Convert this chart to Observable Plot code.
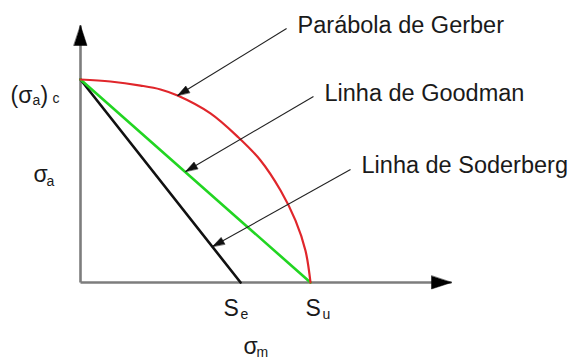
<!DOCTYPE html>
<html>
<head>
<meta charset="utf-8">
<script src="https://cdn.jsdelivr.net/npm/d3@7"></script>
<script src="https://cdn.jsdelivr.net/npm/@observablehq/plot@0.6"></script>
<style>
  body { margin: 0; background: #fff; }
</style>
</head>
<body>
<div id="chart"></div>
<script>
// Fatigue criteria in the σm–σa plane, in units of Su (horizontal) and (σa)c (vertical)
const Su = 1;
const Se = 0.696;
const SaC = 1;

// Gerber curve, read along its length
const gerberSm = [0, 0.130, 0.261, 0.348, 0.422, 0.565, 0.687, 0.783, 0.870, 0.935, 0.978, 1];
const gerberSa = [1, 0.990, 0.970, 0.951, 0.921, 0.833, 0.714, 0.601, 0.453, 0.305, 0.158, 0];

// Callouts: label, where the leader starts and where its head touches the curve
const criteria = ["Parábola de Gerber", "Linha de Goodman", "Linha de Soderberg"];
const fromSm = [0.896, 1.013, 1.174];
const fromSa = [1.251, 0.916, 0.557];
const toSm = [0.422, 0.457, 0.574];
const toSa = [0.921, 0.547, 0.177];

// Axis extents (arrow tips)
const smMax = 1.613;
const saMax = 1.266;

const width = 569, height = 359;
const margin = {top: 79, right: 259, bottom: 77, left: 80};
const xPx = d3.scaleLinear([0, 1], [margin.left, width - margin.right]);
const yPx = d3.scaleLinear([0, 1], [height - margin.bottom, margin.top]);

const gerber = gerberSm.map((sm, i) => ({sm, sa: gerberSa[i]}));
const goodman = [{sm: 0, sa: SaC}, {sm: Su, sa: 0}];
const soderberg = [{sm: 0, sa: SaC}, {sm: Se, sa: 0}];

const callouts = criteria.map((name, i) => {
  const dx = xPx(toSm[i]) - xPx(fromSm[i]);
  const dy = yPx(toSa[i]) - yPx(fromSa[i]);
  return {
    name,
    x1: fromSm[i], y1: fromSa[i],
    x2: toSm[i], y2: toSa[i],
    angle: Math.atan2(dx, -dy) * 180 / Math.PI
  };
});

const axisHeads = [
  {x: 0, y: saMax, angle: 0},
  {x: smMax, y: 0, angle: 90}
];

// filled triangular arrowhead, tip at the anchor point
const head = {
  draw(ctx, l, r) {
    ctx.moveTo(0, -l);
    ctx.lineTo(r, 0);
    ctx.lineTo(-r, 0);
    ctx.closePath();
  }
};

const font = "'Liberation Sans', Arial, Helvetica, sans-serif";
const ink = "#1a1a1a";

// label made of a main glyph run plus smaller subscript runs
function label(x, y, parts) {
  return parts.map(([text, size, dx, dy]) =>
    Plot.text([{x, y}], {
      x: "x", y: "y", text: () => text,
      fontSize: size, dx, dy,
      textAnchor: "start", lineAnchor: "bottom",
      fill: ink
    })
  );
}

const chart = Plot.plot({
  width, height,
  marginTop: margin.top, marginRight: margin.right,
  marginBottom: margin.bottom, marginLeft: margin.left,
  x: {domain: [0, 1], axis: null},
  y: {domain: [0, 1], axis: null},
  style: {fontFamily: font, background: "#fff"},
  marks: [
    // axes
    Plot.link([{x1: 0, y1: 0, x2: smMax, y2: 0}, {x1: 0, y1: 0, x2: 0, y2: saMax}],
      {x1: "x1", y1: "y1", x2: "x2", y2: "y2", stroke: "#7d7d7d", strokeWidth: 2.6}),
    Plot.vector(axisHeads, {
      x: "x", y: "y", rotate: "angle", anchor: "end", shape: head,
      length: 20, r: 6.5, fill: "#000", stroke: "#000", strokeWidth: 0.5
    }),

    // criteria
    Plot.line(soderberg, {x: "sm", y: "sa", stroke: "#111", strokeWidth: 2.6}),
    Plot.line(goodman, {x: "sm", y: "sa", stroke: "#22d522", strokeWidth: 2.6}),
    Plot.line(gerber, {x: "sm", y: "sa", stroke: "#e0262b", strokeWidth: 2.2, curve: "catmull-rom"}),

    // callout leaders and labels
    Plot.link(callouts, {x1: "x1", y1: "y1", x2: "x2", y2: "y2", stroke: "#222", strokeWidth: 1.1}),
    Plot.vector(callouts, {
      x: "x2", y: "y2", rotate: "angle", anchor: "end", shape: head,
      length: 12, r: 3.8, fill: "#111", stroke: "#111", strokeWidth: 0.5
    }),
    Plot.text(callouts, {
      x: "x1", y: "y1", text: "name", dx: 11, dy: 4,
      textAnchor: "start", lineAnchor: "bottom", fontSize: 23.5, fill: ink
    }),

    // axis labels
    ...label(0, SaC, [["(σ", 23, -70, 23], ["a", 14, -48, 25], [")", 23, -40, 23], ["c", 14, -28, 23]]),
    ...label(0, SaC / 2, [["σ", 23, -47, 1], ["a", 14, -34, 5]]),
    ...label(Se, 0, [["S", 23, -17, 33], ["e", 14, 0, 36]]),
    ...label(Su, 0, [["S", 23, -5, 33], ["u", 14, 12, 36]]),
    ...label(Se, 0, [["σ", 23, 3, 71], ["m", 14, 16, 74]])
  ]
});

document.getElementById("chart").append(chart);
</script>
</body>
</html>
